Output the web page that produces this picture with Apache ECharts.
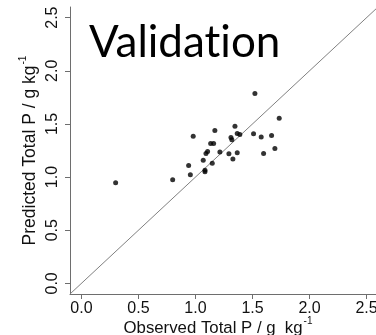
<!DOCTYPE html>
<html><head><meta charset="utf-8">
<script src="https://cdn.jsdelivr.net/npm/echarts@6/dist/echarts.min.js"></script>
<style>html,body{margin:0;padding:0;background:#fff}#c{width:376px;height:335px}</style>
</head><body><div id="c"></div>
<script>
const observed = [0.30,0.80,0.94,0.955,0.98,1.068,1.083,1.083,1.092,1.106,1.133,1.159,1.147,1.170,1.214,1.293,1.311,1.319,1.328,1.346,1.366,1.366,1.389,1.521,1.509,1.576,1.597,1.667,1.696,1.734];
const predicted = [0.946,0.974,1.109,1.021,1.385,1.159,1.065,1.050,1.222,1.240,1.316,1.316,1.131,1.438,1.237,1.219,1.372,1.350,1.169,1.479,1.228,1.410,1.400,1.786,1.407,1.378,1.222,1.391,1.269,1.554];
const tickValues = [0,0.5,1.0,1.5,2.0,2.5];
const oneToOne = [[-0.1,-0.1],[2.6,2.6]];
const axisRange = [-0.1, 2.6];

const pts = observed.map((x,i)=>[x,predicted[i]]);
const FONT = '"Liberation Sans", Arial, sans-serif';
const TXT = '#111';
const AX = '#6e6e6e';

function axisCommon(fs){
  return {
    type:'value', min:axisRange[0], max:axisRange[1],
    splitLine:{show:false},
    axisLine:{show:true,onZero:false,lineStyle:{color:AX,width:1}},
    axisTick:{show:true,inside:false,length:5,customValues:tickValues,lineStyle:{color:AX}},
    axisLabel:{customValues:tickValues,formatter:v=>v.toFixed(1),color:TXT,fontFamily:FONT,fontSize:16},
    nameLocation:'middle',
    nameMoveOverlap:false,
    nameTextStyle:{color:TXT,fontFamily:FONT,fontSize:fs,
      rich:{m:{fontFamily:FONT,fontSize:fs,color:TXT},s:{fontFamily:FONT,fontSize:10,color:TXT,padding:[0,0,14,1]}}}
  };
}
const xA = axisCommon(16.8);
xA.name = '{m|Observed Total P / g  kg}{s|-1}';
xA.nameGap = 22;
xA.axisLabel.margin = 7;
xA.nameTextStyle.padding = [0,12,0,0];
const yA = axisCommon(17.5);
yA.name = '{m|Predicted Total P / g kg}{s|-1}';
yA.nameGap = 28;
yA.axisLabel.rotate = 90;
yA.axisLabel.margin = 9;

const chart = echarts.init(document.getElementById('c'),null,{renderer:'canvas'});
chart.setOption({
  animation:false,
  backgroundColor:'#fff',
  title:{text:'Validat\u200Cion',left:84,top:16,textStyle:{fontFamily:'Lato, "Open Sans", sans-serif',fontSize:44,fontWeight:'normal',color:'#000'}},
  grid:{left:70,top:7,right:-2,bottom:41,containLabel:false,outerBoundsMode:'none'},
  xAxis:xA,
  yAxis:yA,
  series:[
    {type:'line',data:oneToOne,symbol:'none',lineStyle:{color:'#808080',width:1},silent:true,z:1},
    {type:'scatter',data:pts,symbol:'circle',symbolSize:5,itemStyle:{color:'#000'},z:2}
  ]
});
</script></body></html>
